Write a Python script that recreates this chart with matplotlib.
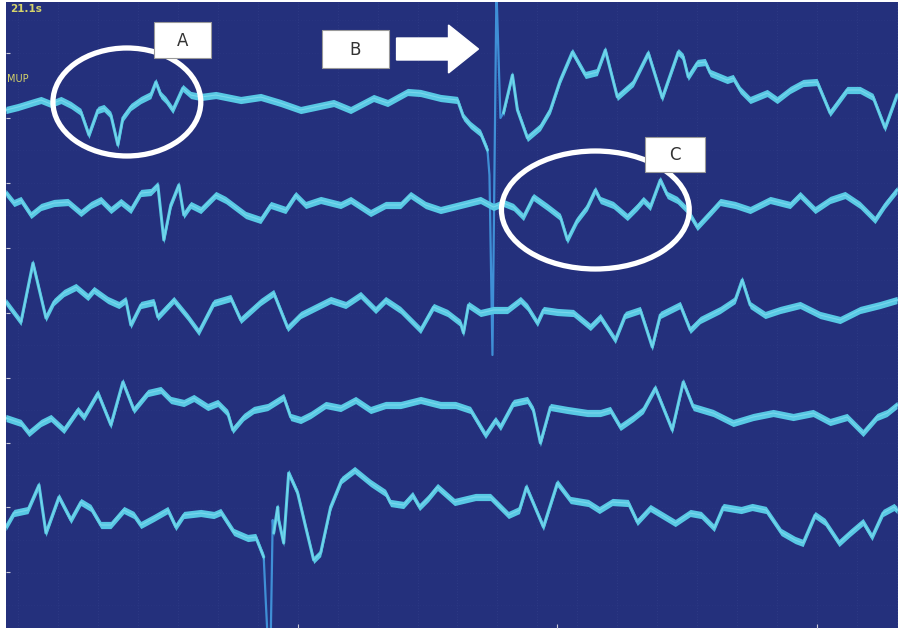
import numpy as np
import matplotlib
matplotlib.use('Agg')
from matplotlib import pyplot as plt
from matplotlib.patches import Ellipse, FancyArrow, Rectangle

plt.close('all')

#########################################
# traces (x, y px)  #
#########################################
x1 = [5, 17, 30, 40, 50, 60, 70, 80, 88, 97, 103, 110, 117, 122, 130, 140, 150, 155, 160, 165,
      172, 182, 190, 200, 215, 240, 260, 280, 300, 333, 350, 373, 387, 407, 420, 440, 457, 463,
      470, 480, 487]
y1 = [110, 107, 103, 100, 104, 100, 105, 112, 135, 110, 108, 115, 145, 118, 107, 100, 95, 82, 95, 100,
      110, 88, 95, 97, 95, 100, 97, 103, 110, 103, 110, 98, 103, 92, 93, 98, 100, 117,
      125, 133, 150]
x1b = [503, 512, 517, 527, 540, 550, 560, 572, 585, 597, 605, 617, 633, 648, 662, 678, 683, 688,
       697, 705, 710, 727, 733, 740, 750, 767, 777, 790, 803, 817, 830, 847, 860, 873, 885, 897]
y1b = [113, 75, 110, 138, 127, 110, 80, 52, 75, 72, 50, 97, 83, 53, 98, 52, 57, 77,
       63, 62, 73, 80, 78, 90, 100, 93, 100, 90, 83, 82, 113, 90, 90, 97, 128, 95]

x2 = [5, 13, 20, 30, 40, 53, 67, 80, 90, 100, 110, 120, 130, 140, 150, 157, 163, 170, 178, 183,
      190, 200, 215, 225, 245, 260, 270, 285, 295, 305, 320, 340, 350, 370, 385, 400, 410, 425,
      440, 460, 480, 493, 503, 513, 523, 533, 547, 560, 567, 577, 587, 595, 600, 613, 627, 637,
      643, 650, 660, 667, 677, 687, 697, 710, 720, 735, 750, 770, 790, 800, 815, 830, 845, 860,
      875, 885, 897]
y2 = [193, 203, 200, 215, 207, 203, 202, 213, 205, 200, 210, 202, 210, 193, 192, 185, 240, 205, 185, 215,
      205, 210, 195, 200, 215, 220, 205, 210, 195, 205, 200, 205, 200, 213, 205, 205, 195, 205,
      210, 205, 200, 207, 203, 207, 217, 197, 207, 217, 240, 220, 207, 190, 200, 205, 217, 207,
      200, 207, 180, 195, 200, 210, 227, 213, 202, 205, 210, 200, 205, 195, 210, 200, 195, 205,
      220, 205, 190]

x3 = [5, 20, 32, 45, 53, 63, 75, 87, 93, 107, 118, 125, 130, 140, 153, 157, 173, 187, 198, 213,
      230, 240, 260, 273, 287, 300, 310, 330, 345, 360, 375, 385, 400, 420, 433, 447, 460, 463,
      468, 480, 493, 507, 520, 527, 537, 543, 557, 573, 590, 600, 615, 625, 640, 652, 660, 680,
      690, 700, 720, 735, 742, 750, 765, 780, 800, 820, 840, 860, 880, 897]
y3 = [302, 322, 263, 318, 302, 293, 287, 297, 290, 300, 305, 300, 325, 305, 302, 317, 300, 317, 332, 303,
      298, 320, 302, 293, 328, 315, 310, 300, 305, 295, 310, 300, 310, 330, 307, 313, 323, 333,
      305, 313, 310, 310, 300, 307, 323, 310, 312, 313, 327, 317, 340, 315, 310, 347, 315, 305,
      330, 320, 310, 300, 280, 305, 315, 310, 305, 315, 320, 310, 305, 300]

x4 = [5, 20, 28, 40, 50, 63, 77, 83, 97, 110, 122, 133, 147, 160, 170, 183, 193, 207, 217, 227,
      232, 243, 253, 267, 283, 290, 300, 310, 325, 340, 355, 370, 385, 400, 420, 440, 455, 470,
      485, 495, 500, 513, 527, 533, 540, 550, 567, 587, 600, 610, 620, 633, 643, 655, 672, 683,
      693, 713, 733, 753, 773, 793, 813, 830, 847, 863, 877, 887, 897]
y4 = [418, 423, 433, 423, 418, 430, 410, 417, 393, 425, 382, 410, 393, 390, 400, 403, 398, 407, 403, 413,
      430, 417, 410, 407, 397, 417, 420, 415, 405, 408, 400, 410, 405, 405, 400, 405, 405, 410,
      435, 420, 427, 403, 400, 410, 443, 407, 410, 413, 413, 410, 427, 418, 410, 388, 430, 382,
      407, 413, 423, 417, 413, 417, 413, 422, 417, 433, 417, 413, 405]

x5 = [5, 13, 27, 38, 45, 58, 70, 80, 90, 100, 110, 123, 133, 140, 153, 167, 175, 183, 200, 213,
      220, 233, 247, 255, 263]
y5 = [527, 513, 510, 485, 533, 497, 520, 502, 508, 525, 525, 510, 515, 525, 518, 510, 527, 515, 513, 515,
      512, 532, 538, 537, 557]
x5b = [273, 277, 278, 283, 288, 297, 305, 313, 320, 330, 341, 354, 370, 385, 390, 403, 412, 419,
       428, 437, 454, 475, 490, 508, 519, 526, 543, 557, 570, 588, 599, 612, 628, 637, 650, 665,
       675, 690, 701, 714, 723, 741, 752, 766, 781, 795, 803, 815, 825, 839, 850, 863, 872, 883,
       894, 897]
y5b = [533, 507, 520, 543, 473, 493, 527, 560, 553, 507, 480, 470, 483, 493, 503, 505, 495, 507,
       498, 487, 502, 497, 497, 515, 510, 487, 527, 483, 500, 503, 510, 502, 503, 522, 508, 517,
       523, 513, 515, 528, 507, 510, 507, 510, 532, 540, 543, 515, 522, 543, 533, 522, 537, 513,
       507, 510]

# stimulus artefacts (thin lines)
xs1 = [487, 489, 492, 496, 500, 503]
ys1 = [150, 175, 355, -10, 118, 113]
xs5 = [263, 265, 267, 270, 272, 273]
ys5 = [557, 600, 640, 640, 520, 533]

row_ticks = [53, 118, 183, 248, 313, 378, 443, 507, 572]

bg = '#24307c'
trace_col = '#58c8e4'
spike_col = '#3f8fd6'
band = 3.6   # half thickness of the noisy trace band

fig = plt.figure(figsize=(9, 6.3), dpi=100, facecolor='white')
ax = fig.add_axes([6/900, 2/630, 892/900, 626/630])
ax.set_facecolor(bg)
ax.set_xlim(5, 898)
ax.set_ylim(628, 2)

# faint grid
for gx in np.arange(17, 898, 40):
    ax.axvline(gx, color='#7080c4', lw=0.5, ls=(0, (1, 3)), alpha=0.25, zorder=1)
for gy in np.arange(20, 628, 32.5):
    ax.axhline(gy, color='#7080c4', lw=0.5, ls=(0, (1, 3)), alpha=0.12, zorder=1)

# artefacts
ax.plot(xs1, ys1, color=spike_col, lw=1.6, zorder=2)
ax.plot(xs5, ys5, color=spike_col, lw=1.6, zorder=2)

# traces: vertical noise band + thin core
for xx, yy in [(x1, y1), (x1b, y1b), (x2, y2), (x3, y3), (x4, y4), (x5, y5), (x5b, y5b)]:
    xx = np.array(xx, dtype=float)
    yy = np.array(yy, dtype=float)
    ax.fill_between(xx, yy - band, yy + band, color=trace_col, lw=0, zorder=3)
    ax.plot(xx, yy, color=trace_col, lw=2.2, solid_joinstyle='round', solid_capstyle='round', zorder=3)
    ax.plot(xx, yy, color='#86def0', lw=0.8, alpha=0.7, zorder=4)

# left ticks
ax.set_yticks(row_ticks)
ax.set_xticks([297, 557, 817])
ax.tick_params(axis='both', direction='in', length=3, color='#c8c8d8', labelleft=False, labelbottom=False)
for s in ax.spines.values():
    s.set_visible(False)

# header text
ax.text(9, 9, '21.1s', color='#d6d46a', fontsize=7.5, fontweight='bold', va='center', ha='left')
ax.text(6, 79, 'MUP', color='#d6d46a', fontsize=7, va='center', ha='left')

# circles
ax.add_patch(Ellipse((126, 102), 148, 108, fill=False, ec='white', lw=3.8, zorder=5))
ax.add_patch(Ellipse((595, 210), 188, 118, fill=False, ec='white', lw=3.8, zorder=5))

# label boxes
for (bx, by, bw, bh, lab) in [(153, 22, 57, 36, 'A'), (321, 30, 67, 38, 'B'), (645, 137, 60, 35, 'C')]:
    ax.add_patch(Rectangle((bx, by), bw, bh, fc='white', ec='#9a9a9a', lw=0.8, zorder=6))
    ax.text(bx + bw/2, by + bh/2 + 1, lab, fontsize=12, color='#333333', ha='center', va='center', zorder=7)

# arrow B
ax.add_patch(FancyArrow(396, 49, 52, 0, width=22, head_width=48, head_length=30,
                        length_includes_head=False, fc='white', ec='white', zorder=6))

fig.savefig('out.png', dpi=100, facecolor='white')
